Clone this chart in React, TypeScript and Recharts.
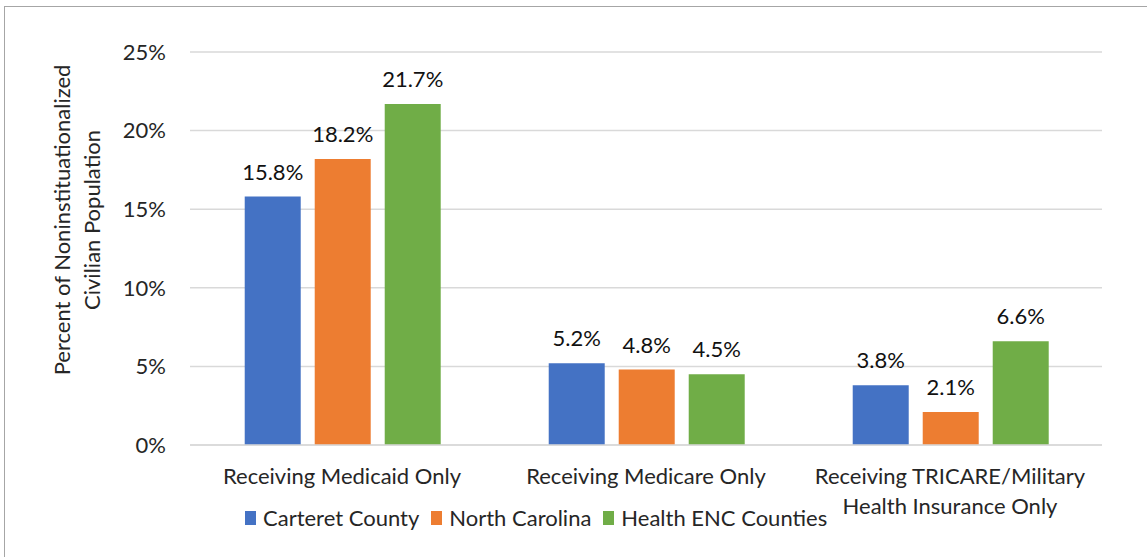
import { BarChart, Bar, XAxis, YAxis, CartesianGrid, LabelList } from 'recharts';

const categories = [
  'Receiving Medicaid Only',
  'Receiving Medicare Only',
  'Receiving TRICARE/Military Health Insurance Only',
];
const carteret = [15.8, 5.2, 3.8];
const northCarolina = [18.2, 4.8, 2.1];
const healthEnc = [21.7, 4.5, 6.6];
const yTicks = [0, 5, 10, 15, 20, 25];

const SERIES = [
  { key: 'carteret', name: 'Carteret County', color: '#4472C4' },
  { key: 'nc', name: 'North Carolina', color: '#ED7D31' },
  { key: 'enc', name: 'Health ENC Counties', color: '#70AD47' },
];

const FONT = 'Lato, "Noto Sans", sans-serif';
const FS = 22;
const TEXT = '#262626';

const data = categories.map((c, i) => ({
  name: c,
  carteret: carteret[i],
  nc: northCarolina[i],
  enc: healthEnc[i],
}));

// simple word wrap by character count, the way Excel breaks the long label
function wrapLabel(label: string, maxChars = 28) {
  const lines: string[] = [];
  let cur = '';
  label.split(' ').forEach((w) => {
    const next = cur ? cur + ' ' + w : w;
    if (next.length > maxChars && cur) {
      lines.push(cur);
      cur = w;
    } else {
      cur = next;
    }
  });
  if (cur) lines.push(cur);
  return lines;
}

function CategoryTick(props: any) {
  const { x, y, payload } = props;
  const lines = wrapLabel(String(payload.value));
  return (
    <text x={x} y={y + 31} textAnchor="middle" fontSize={FS} fontFamily={FONT} fill={TEXT}>
      {lines.map((l, i) => (
        <tspan key={i} x={x} dy={i === 0 ? 0 : 30}>
          {l}
        </tspan>
      ))}
    </text>
  );
}

function AxisTitle() {
  return (
    <text
      transform="translate(78, 220) rotate(-90)"
      textAnchor="middle"
      fontSize={FS}
      fontFamily={FONT}
      fill={TEXT}
    >
      <tspan x={0} dy={-8}>Percent of Noninstituationalized</tspan>
      <tspan x={0} dy={30}>Civilian Population</tspan>
    </text>
  );
}

function LegendBox() {
  return (
    <div
      style={{
        position: 'absolute',
        left: 245,
        top: 504,
        display: 'flex',
        alignItems: 'center',
        fontFamily: FONT,
        fontSize: FS,
        color: TEXT,
        whiteSpace: 'nowrap',
      }}
    >
      {SERIES.map((s) => (
        <div key={s.key} style={{ display: 'flex', alignItems: 'center', marginRight: 12 }}>
          <span style={{ width: 11, height: 14, background: s.color, display: 'inline-block', marginRight: 7 }} />
          <span>{s.name}</span>
        </div>
      ))}
    </div>
  );
}

export default function App() {
  return (
    <div style={{ position: 'fixed', left: 0, top: 0, width: 1147, height: 557, overflow: 'hidden', background: '#fff' }}>
      <div
        style={{
          position: 'absolute',
          left: 4,
          top: 6,
          width: 1200,
          height: 600,
          border: '1.5px solid #a6a6a6',
        }}
      />
      <div style={{ position: 'absolute', left: 0, top: 0 }}>
        <BarChart
          width={1147}
          height={557}
          data={data}
          margin={{ top: 52, right: 45, bottom: 0, left: 0 }}
          barGap={14}
          barCategoryGap="18%"
        >
          <CartesianGrid vertical={false} stroke="#d9d9d9" strokeWidth={1.5} />
          <XAxis
            dataKey="name"
            height={112}
            axisLine={{ stroke: '#d9d9d9', strokeWidth: 1.5 }}
            tickLine={false}
            interval={0}
            tick={<CategoryTick />}
          />
          <YAxis
            width={190}
            domain={[0, 25]}
            ticks={yTicks}
            tickFormatter={(v: number) => `${v}%`}
            axisLine={false}
            tickLine={false}
            tickSize={0}
            tickMargin={24}
            tick={{ fontSize: FS, fontFamily: FONT, fill: TEXT }}
            label={{ content: () => <AxisTitle /> }}
          />
          {SERIES.map((s) => (
            <Bar key={s.key} dataKey={s.key} name={s.name} fill={s.color} isAnimationActive={false}>
              <LabelList
                dataKey={s.key}
                position="top"
                offset={17}
                formatter={(v: any) => `${Number(v).toFixed(1)}%`}
                style={{ fontSize: FS, fontFamily: FONT, fill: '#111' }}
              />
            </Bar>
          ))}
        </BarChart>
      </div>
      <LegendBox />
    </div>
  );
}
